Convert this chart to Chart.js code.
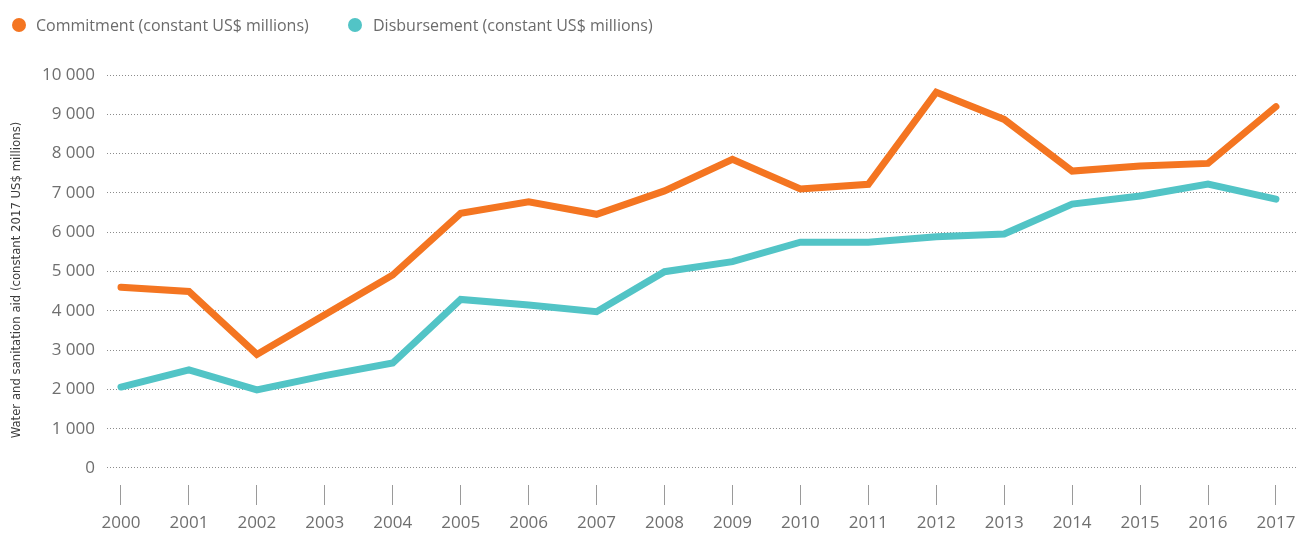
<!DOCTYPE html>
<html>
<head>
<meta charset="utf-8">
<script src="https://cdn.jsdelivr.net/npm/chart.js@4"></script>
<style>
  html, body { margin: 0; padding: 0; background: #fff; }
  #wrap { position: relative; width: 1299px; height: 534px; }
  #legend { position: absolute; left: 0; top: 14px; font-family: "Open Sans", sans-serif; font-size: 16px; color: #6b6b6b; white-space: nowrap; }
  #legend span.item { position: absolute; top: 0; line-height: 22px; }
  #legend span.dot { position: absolute; top: 4px; width: 14px; height: 14px; border-radius: 50%; }
</style>
</head>
<body>
<div id="wrap">
  <canvas id="myChart" width="1299" height="534"></canvas>
  <div id="legend"></div>
</div>
<script>
const years = ['2000', '2001', '2002', '2003', '2004', '2005', '2006', '2007', '2008',
    '2009', '2010', '2011', '2012', '2013', '2014', '2015', '2016', '2017'];

// constant US$ millions
const commitment = [4600, 4490, 2890, 3900, 4910, 6480, 6775, 6455, 7050,
    7855, 7100, 7220, 9560, 8870, 7555, 7685, 7750, 9195];
const disbursement = [2060, 2495, 1985, 2350, 2670, 4290, 4150, 3975, 4995,
    5250, 5745, 5745, 5885, 5955, 6715, 6920, 7225, 6840];

const yTicks = [0, 1000, 2000, 3000, 4000, 5000, 6000, 7000, 8000, 9000, 10000];

const seriesNames = ['Commitment (constant US$ millions)', 'Disbursement (constant US$ millions)'];
const seriesColors = ['#f47521', '#52c4c6'];

const fmt = v => String(v).replace(/\B(?=(\d{3})+(?!\d))/g, ' ');
const toPoints = arr => arr.map((v, i) => ({ x: i, y: v }));

// legend drawn in html so the spacing can be set freely
const legendX = [[12, 36], [348, 373]];
const legend = document.getElementById('legend');
seriesNames.forEach((name, i) => {
    const dot = document.createElement('span');
    dot.className = 'dot';
    dot.style.left = legendX[i][0] + 'px';
    dot.style.background = seriesColors[i];
    const txt = document.createElement('span');
    txt.className = 'item';
    txt.style.left = legendX[i][1] + 'px';
    txt.textContent = name;
    legend.appendChild(dot);
    legend.appendChild(txt);
});

const tickFont = { family: '"Open Sans", sans-serif', size: 17 };

const config = {
    type: 'line',
    data: {
        datasets: [{
            label: seriesNames[0],
            data: toPoints(commitment),
            borderColor: seriesColors[0],
            backgroundColor: seriesColors[0]
        }, {
            label: seriesNames[1],
            data: toPoints(disbursement),
            borderColor: seriesColors[1],
            backgroundColor: seriesColors[1]
        }]
    },
    options: {
        responsive: false,
        animation: false,
        layout: { padding: { top: 75, right: 2, bottom: 0, left: 0 } },
        elements: {
            line: { borderWidth: 7, tension: 0, fill: false, borderCapStyle: 'round', borderJoinStyle: 'miter' },
            point: { radius: 0, hoverRadius: 0 }
        },
        plugins: {
            legend: { display: false },
            tooltip: { enabled: false }
        },
        scales: {
            x: {
                type: 'linear',
                min: -0.206,
                max: 17.31,
                afterBuildTicks: scale => {
                    scale.ticks = years.map((_, i) => ({ value: i }));
                },
                afterFit: scale => {
                    scale.height = 49;
                    scale.paddingLeft = 0;
                    scale.paddingRight = 0;
                },
                ticks: {
                    callback: v => years[v],
                    color: '#6f6f6f',
                    font: tickFont,
                    padding: 8,
                    maxRotation: 0,
                    autoSkip: false
                },
                grid: {
                    drawOnChartArea: false,
                    drawTicks: true,
                    tickLength: 20,
                    color: '#9a9a9a',
                    lineWidth: 1
                },
                border: { display: false }
            },
            y: {
                min: -433,  // leaves room between the 0 line and the year tick marks
                max: 10000,
                afterBuildTicks: scale => {
                    scale.ticks = yTicks.map(v => ({ value: v }));
                },
                afterFit: scale => { scale.width = 107; },
                ticks: {
                    callback: v => fmt(v),
                    color: '#6f6f6f',
                    font: tickFont,
                    padding: 12
                },
                grid: {
                    drawTicks: false,
                    color: '#8c8c8c',
                    lineWidth: 1
                },
                border: { display: false, dash: [1, 2] },
                title: {
                    display: true,
                    text: 'Water and sanitation aid (constant 2017 US$ millions)',
                    color: '#3c3c3c',
                    font: { family: '"Liberation Sans Narrow", "DejaVu Sans Condensed", sans-serif', size: 13 },
                    padding: { top: 9, bottom: 0 }
                }
            }
        }
    }
};

const ctx = document.getElementById('myChart').getContext('2d');
new Chart(ctx, config);
</script>
</body>
</html>
